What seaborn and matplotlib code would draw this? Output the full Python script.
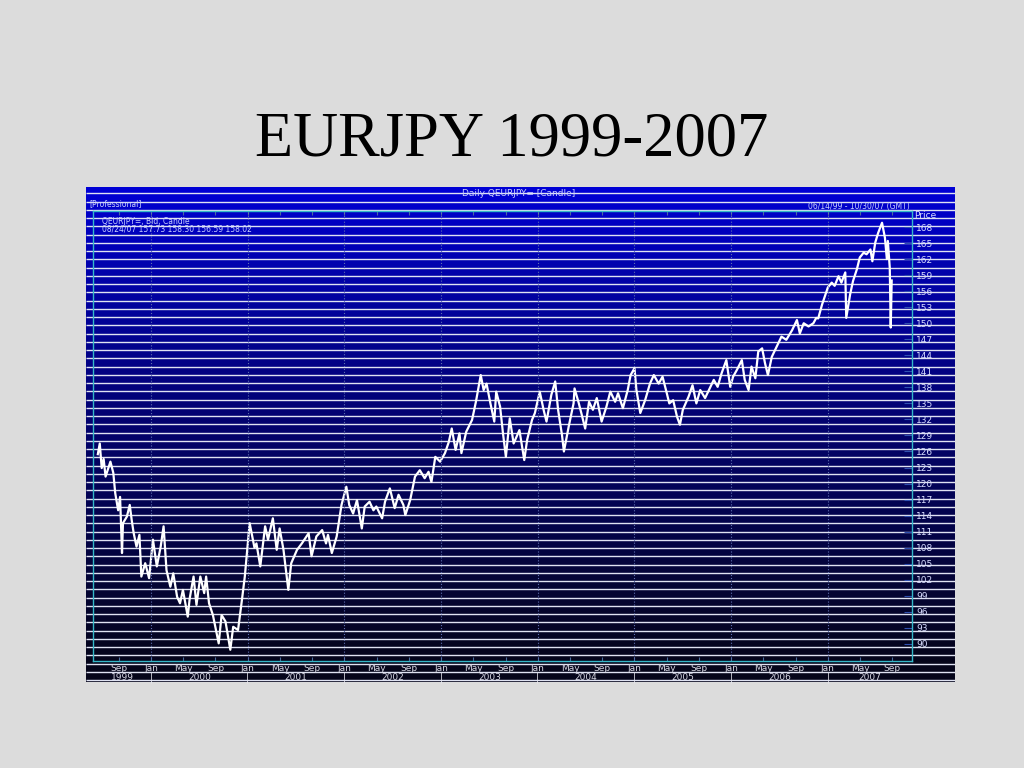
import numpy as np
import pandas as pd
import matplotlib
matplotlib.use("Agg")
import matplotlib.pyplot as plt
import matplotlib.transforms as mtransforms
import seaborn as sns

# EURJPY daily (decimal year, price)
year = [1999.45, 1999.47, 1999.49, 1999.51, 1999.53, 1999.58, 1999.61, 1999.63, 1999.66, 1999.68,
        1999.70, 1999.71, 1999.75, 1999.78, 1999.80, 1999.82, 1999.85, 1999.88, 1999.90, 1999.94,
        1999.98, 2000.02, 2000.06, 2000.10, 2000.13, 2000.16, 2000.20, 2000.23, 2000.27, 2000.30,
        2000.33, 2000.38, 2000.40, 2000.44, 2000.47, 2000.51, 2000.55, 2000.57, 2000.60, 2000.64,
        2000.70, 2000.73, 2000.77, 2000.82, 2000.85, 2000.90, 2000.94, 2000.97, 2001.02, 2001.07,
        2001.09, 2001.13, 2001.18, 2001.21, 2001.26, 2001.30, 2001.33, 2001.37, 2001.42, 2001.45,
        2001.51, 2001.56, 2001.63, 2001.66, 2001.71, 2001.77, 2001.81, 2001.83, 2001.87, 2001.92,
        2001.97, 2002.02, 2002.05, 2002.09, 2002.13, 2002.18, 2002.21, 2002.26, 2002.30, 2002.33,
        2002.39, 2002.42, 2002.47, 2002.52, 2002.56, 2002.61, 2002.63, 2002.68, 2002.73, 2002.78,
        2002.83, 2002.87, 2002.90, 2002.94, 2002.99, 2003.04, 2003.08, 2003.11, 2003.15, 2003.19,
        2003.21, 2003.26, 2003.32, 2003.36, 2003.41, 2003.44, 2003.47, 2003.51, 2003.55, 2003.57,
        2003.61, 2003.64, 2003.67, 2003.71, 2003.75, 2003.81, 2003.86, 2003.89, 2003.94, 2003.97,
        2004.02, 2004.06, 2004.09, 2004.14, 2004.18, 2004.21, 2004.25, 2004.27, 2004.32, 2004.37,
        2004.38, 2004.42, 2004.45, 2004.49, 2004.53, 2004.57, 2004.61, 2004.66, 2004.71, 2004.75,
        2004.80, 2004.83, 2004.88, 2004.93, 2004.96, 2005.00, 2005.02, 2005.06, 2005.11, 2005.16,
        2005.20, 2005.25, 2005.29, 2005.33, 2005.36, 2005.40, 2005.44, 2005.47, 2005.50, 2005.56,
        2005.60, 2005.64, 2005.68, 2005.73, 2005.77, 2005.82, 2005.86, 2005.90, 2005.95, 2005.99,
        2006.02, 2006.06, 2006.11, 2006.14, 2006.18, 2006.21, 2006.25, 2006.28, 2006.32, 2006.35,
        2006.38, 2006.42, 2006.47, 2006.52, 2006.57, 2006.63, 2006.68, 2006.71, 2006.75, 2006.80,
        2006.85, 2006.88, 2006.90, 2006.94, 2006.97, 2007.00, 2007.04, 2007.07, 2007.11, 2007.14,
        2007.18, 2007.19, 2007.23, 2007.26, 2007.30, 2007.33, 2007.37, 2007.40, 2007.44, 2007.46,
        2007.49, 2007.52, 2007.56, 2007.59, 2007.61, 2007.62, 2007.64, 2007.65, 2007.66]
price = [125.5, 127.5, 122.9, 124.6, 121.3, 124.1, 122.0, 118.2, 115.0, 117.5,
         107.0, 112.6, 113.8, 116.0, 113.2, 110.8, 108.2, 110.4, 102.6, 105.1,
         102.3, 109.5, 104.5, 108.2, 112.0, 103.8, 100.7, 103.2, 98.8, 97.6,
         100.1, 95.1, 98.5, 102.6, 97.3, 102.6, 99.5, 102.6, 97.6, 95.4,
         90.1, 95.4, 94.2, 88.9, 93.2, 92.6, 98.2, 102.6, 112.6, 108.0,
         108.8, 104.5, 112.0, 109.5, 113.5, 107.6, 111.6, 107.6, 100.1, 105.1,
         107.6, 108.8, 110.7, 106.4, 110.1, 111.3, 108.8, 110.4, 107.0, 110.1,
         116.0, 119.4, 116.0, 114.4, 116.9, 111.6, 115.7, 116.6, 115.0, 115.7,
         113.5, 116.6, 119.1, 115.4, 117.9, 116.0, 114.1, 116.9, 121.3, 122.5,
         121.0, 122.2, 120.3, 125.0, 124.1, 125.7, 127.8, 130.3, 126.3, 129.4,
         125.7, 129.7, 131.9, 135.3, 140.3, 137.5, 138.7, 135.0, 131.6, 137.2,
         134.4, 129.4, 125.0, 132.2, 127.5, 130.0, 124.4, 128.2, 131.9, 133.2,
         137.2, 133.8, 131.6, 136.6, 139.1, 133.8, 129.1, 126.0, 130.7, 135.0,
         137.8, 135.3, 133.2, 130.3, 135.3, 133.8, 136.0, 131.6, 134.4, 137.2,
         135.3, 136.9, 134.1, 137.5, 140.3, 141.6, 137.5, 133.2, 135.6, 138.7,
         140.3, 138.7, 140.0, 137.2, 135.0, 135.6, 132.5, 131.0, 133.8, 136.3,
         138.4, 135.0, 137.5, 136.0, 137.5, 139.4, 138.1, 140.6, 143.1, 138.1,
         140.0, 141.3, 143.1, 139.4, 137.5, 141.9, 139.7, 144.7, 145.3, 142.5,
         140.3, 143.7, 145.6, 147.5, 146.9, 148.7, 150.6, 148.1, 150.0, 149.4,
         150.0, 151.0, 150.9, 153.5, 155.1, 156.7, 157.6, 157.0, 158.8, 157.6,
         159.5, 151.0, 155.4, 157.9, 160.1, 162.3, 163.2, 162.9, 163.8, 161.6,
         165.1, 166.9, 168.8, 166.0, 162.0, 165.4, 160.4, 149.2, 158.0]

price_ticks = list(range(90, 169, 3))
years = [1999, 2000, 2001, 2002, 2003, 2004, 2005, 2006, 2007]
month_names = ["Jan", "May", "Sep"]
month_nums = [1, 5, 9]

df = pd.DataFrame({"year": year, "price": price})

fig = plt.figure(figsize=(10.24, 7.68), dpi=100, facecolor="#dcdcdc")

# title
fig.text(0.5, 1 - 156 / 768, "EURJPY 1999-2007", fontsize=45, family="Liberation Serif",
         ha="center", va="baseline", color="black")

# blue panel with gradient and scan lines
bg = fig.add_axes([86 / 1024, 1 - 682 / 768, 869 / 1024, 495 / 768])
g = np.linspace(0, 1, 256)[:, None, None] ** 0.85
top = np.array([0.0, 0.0, 0.84])
bot = np.array([0.02, 0.02, 0.08])
img = top + (bot - top) * g
bg.imshow(img, extent=[0, 1, 0, 1], aspect="auto", origin="upper")
bg.axhspan(0, 21 / 495, color="#05051a")
bg.hlines(np.arange(0.004, 1, 8.25 / 495), 0, 1, color="#dfe2f2", lw=1.0)
bg.set_xlim(0, 1)
bg.set_ylim(0, 1)
bg.axis("off")

# chart axes
ax = fig.add_axes([93 / 1024, 1 - 661 / 768, 819 / 1024, 450 / 768], facecolor="none")
sns.lineplot(data=df, x="year", y="price", ax=ax, color="white", linewidth=1.6,
             estimator=None, sort=False)
ax.set_xlim(1999.40, 2007.87)
ax.set_ylim(86.8, 171.0)
ax.set_xlabel("")
ax.set_ylabel("")

for s in ax.spines.values():
    s.set_color("#35b8c8")
    s.set_linewidth(1.0)

ax.yaxis.tick_right()
ax.set_yticks(price_ticks)
ax.set_yticklabels([str(p) for p in price_ticks])
ax.tick_params(axis="y", direction="in", length=6, color="#3050b0", labelcolor="#d8ddff",
               labelsize=6.5, pad=3)

xpos, xlab = [], []
for y in years:
    for m, n in zip(month_nums, month_names):
        p = y + (m - 1) / 12
        if 1999.40 < p < 2007.87:
            xpos.append(p)
            xlab.append(n)
ax.set_xticks(xpos)
ax.set_xticklabels(xlab)
ax.tick_params(axis="x", direction="in", length=3, top=True, color="#4a6a9a",
               labelcolor="#d8d8e4", labelsize=6.5, pad=2)

for y in years[1:]:
    ax.axvline(y, color="#6070b0", ls=":", lw=0.8)

trans = mtransforms.blended_transform_factory(ax.transData, ax.transAxes)
for y in years:
    a = max(y, 1999.40)
    b = min(y + 1, 2007.87)
    ax.text((a + b) / 2, -0.037, str(y), transform=trans, ha="center", va="center",
            fontsize=6.5, color="#d8d8e4")
    if y > 1999:
        ax.text(y, -0.037, "|", transform=trans, ha="center", va="center",
                fontsize=7, color="#e8e8f0")

# header texts
hc = "#c8d0ff"
fig.text(519 / 1024, 1 - 194 / 768, "Daily QEURJPY= [Candle]", fontsize=6.5, color=hc,
         ha="center", va="center")
fig.text(89 / 1024, 1 - 204 / 768, "[Professional]", fontsize=5.5, color=hc, ha="left", va="center")
fig.text(910 / 1024, 1 - 206 / 768, "06/14/99 - 10/30/07 (GMT)", fontsize=5.5, color=hc,
         ha="right", va="center")
fig.text(102 / 1024, 1 - 221 / 768, "QEURJPY=, Bid, Candle", fontsize=5.5, color=hc,
         ha="left", va="center")
fig.text(102 / 1024, 1 - 229 / 768, "08/24/07 157.73 158.30 156.59 158.02", fontsize=5.5,
         color=hc, ha="left", va="center")
fig.text(914 / 1024, 1 - 216 / 768, "Price", fontsize=6.5, color="#d8ddff", ha="left", va="center")

fig.savefig("out.png", dpi=100, facecolor=fig.get_facecolor())
